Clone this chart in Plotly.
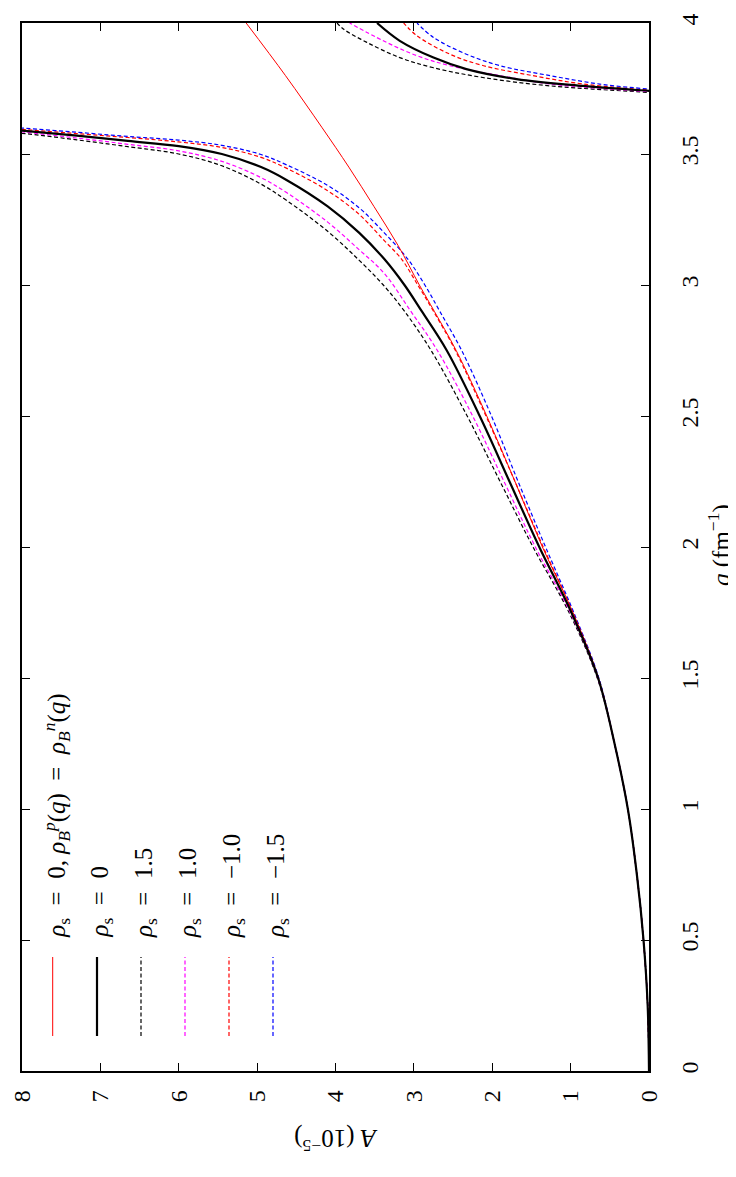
import plotly.graph_objects as go

# ---------------- data (q in fm^-1, A in 1e-5) ----------------
q_low = [0.0, 0.25, 0.5, 0.75, 1.0, 1.25]
A_low = [0.0, 0.017, 0.07, 0.155, 0.27, 0.44]

# red thin: rho_s = 0, rho_B^p = rho_B^n
q_ref = q_low + [1.5, 1.75, 2.0, 2.25, 2.5, 2.75, 2.9, 3.0, 3.15, 3.3, 3.45, 3.6, 3.8, 4.0]
A_ref = A_low + [0.645, 0.97, 1.36, 1.71, 2.07, 2.46, 2.74, 2.93, 3.20, 3.51, 3.83, 4.17, 4.64, 5.14]

# rho_s = 0 (black solid)
q_s0 = q_low + [1.5, 1.75, 2.0, 2.25, 2.5, 2.75, 2.9, 3.0, 3.1, 3.2, 3.3, 3.4, 3.45, 3.5, 3.53, 3.55, 3.57, 3.589, 3.60]
A_s0 = A_low + [0.65, 0.99, 1.40, 1.78, 2.16, 2.58, 2.90, 3.12, 3.38, 3.70, 4.10, 4.62, 4.95, 5.45, 6.0, 6.65, 7.3, 8.0, 8.5]
q_s0_up = [3.735, 3.741, 3.760, 3.786, 3.824, 3.868, 3.932, 4.0]
A_s0_up = [-0.3, 0.0, 0.84, 1.69, 2.33, 2.75, 3.18, 3.47]

# rho_s = 1.5 (black dashed)
q_p15 = q_low + [1.5, 1.75, 2.0, 2.25, 2.5, 2.75, 2.9, 3.0, 3.095, 3.205, 3.322, 3.385, 3.455, 3.50, 3.528, 3.554, 3.579, 3.59]
A_p15 = A_low + [0.66, 1.02, 1.48, 1.90, 2.32, 2.78, 3.12, 3.39, 3.70, 4.10, 4.62, 4.95, 5.45, 6.0, 6.65, 7.3, 8.0, 8.5]
q_p15_up = [3.729, 3.735, 3.760, 3.792, 3.830, 3.868, 3.926, 3.977, 4.0]
A_p15_up = [-0.3, 0.0, 1.26, 2.12, 2.76, 3.18, 3.60, 3.90, 3.98]

# rho_s = 1.0 (magenta dashed)
q_p10 = q_low + [1.5, 1.75, 2.0, 2.25, 2.5, 2.75, 2.9, 3.045, 3.135, 3.24, 3.352, 3.41, 3.472, 3.512, 3.537, 3.561, 3.584, 3.595]
A_p10 = A_low + [0.655, 1.005, 1.45, 1.85, 2.25, 2.70, 3.04, 3.38, 3.70, 4.10, 4.62, 4.95, 5.45, 6.0, 6.65, 7.3, 8.0, 8.5]
q_p10_up = [3.732, 3.738, 3.767, 3.799, 3.837, 3.875, 3.932, 4.0]
A_p10_up = [-0.3, 0.0, 1.26, 1.90, 2.54, 2.96, 3.39, 3.82]

# rho_s = -1.0 (red dashed)
q_m10 = q_low + [1.5, 1.75, 2.0, 2.25, 2.5, 2.75, 2.9, 3.0, 3.1, 3.17, 3.27, 3.36, 3.445, 3.487, 3.525, 3.546, 3.563, 3.578, 3.594, 3.605]
A_m10 = A_low + [0.645, 0.97, 1.35, 1.71, 2.08, 2.47, 2.75, 2.95, 3.16, 3.38, 3.70, 4.10, 4.62, 4.95, 5.45, 6.0, 6.65, 7.3, 8.0, 8.5]
q_m10_up = [3.738, 3.744, 3.767, 3.799, 3.837, 3.881, 3.951, 4.0]
A_m10_up = [-0.3, 0.0, 0.84, 1.48, 2.11, 2.54, 2.96, 3.13]

# rho_s = -1.5 (blue dashed)
q_m15 = q_low + [1.5, 1.75, 2.0, 2.25, 2.5, 2.75, 2.9, 3.0, 3.1, 3.2, 3.295, 3.38, 3.458, 3.498, 3.533, 3.553, 3.567, 3.583, 3.599, 3.61]
A_m15 = A_low + [0.64, 0.96, 1.32, 1.67, 2.01, 2.39, 2.67, 2.86, 3.08, 3.38, 3.70, 4.10, 4.62, 4.95, 5.45, 6.0, 6.65, 7.3, 8.0, 8.5]
q_m15_up = [3.742, 3.748, 3.767, 3.799, 3.837, 3.881, 3.945, 4.0]
A_m15_up = [-0.3, 0.0, 0.63, 1.26, 1.90, 2.33, 2.75, 2.96]

A_ticks = [0, 1, 2, 3, 4, 5, 6, 7, 8]
q_ticks = [0, 0.5, 1, 1.5, 2, 2.5, 3, 3.5, 4]

legend_labels = [
    "<i>ρ</i><sub>s</sub>\u2002=\u20020, <i>ρ</i><sub><i>B</i></sub><sup><i>p</i></sup>(<i>q</i>)\u2002=\u2002<i>ρ</i><sub><i>B</i></sub><sup><i>n</i></sup>(<i>q</i>)",
    "<i>ρ</i><sub>s</sub>\u2002=\u20020",
    "<i>ρ</i><sub>s</sub>\u2002=\u20021.5",
    "<i>ρ</i><sub>s</sub>\u2002=\u20021.0",
    "<i>ρ</i><sub>s</sub>\u2002=\u2002\u22121.0",
    "<i>ρ</i><sub>s</sub>\u2002=\u2002\u22121.5",
]

# ---------------- styles ----------------
DASH = "4px,2.5px"
styles = [
    dict(color="#ff0000", width=1.0, dash="solid"),
    dict(color="#000000", width=2.2, dash="solid"),
    dict(color="#000000", width=1.2, dash=DASH),
    dict(color="#ff00ff", width=1.2, dash=DASH),
    dict(color="#ff0000", width=1.2, dash=DASH),
    dict(color="#0000ff", width=1.2, dash=DASH),
]

series = [
    [(A_ref, q_ref)],
    [(A_s0, q_s0), (A_s0_up, q_s0_up)],
    [(A_p15, q_p15), (A_p15_up, q_p15_up)],
    [(A_p10, q_p10), (A_p10_up, q_p10_up)],
    [(A_m10, q_m10), (A_m10_up, q_m10_up)],
    [(A_m15, q_m15), (A_m15_up, q_m15_up)],
]

fig = go.Figure()
order = [2, 3, 4, 5, 0, 1]
for i in order:
    for (xs, ys) in series[i]:
        fig.add_trace(go.Scatter(x=xs, y=ys, mode="lines", line=styles[i],
                                 line_shape="spline", hoverinfo="skip",
                                 showlegend=False))

# page body adds an 8px margin: figure coordinates = screen - 8
OFF = 8
W, H = 736 - OFF, 1177 - OFF
L, R, T, B = 22 - OFF, 649 - OFF, 23 - OFF, 1071 - OFF
FONT = "Times New Roman"

def px_x(X):
    return (X - OFF - L) / (R - L)

def px_y(Y):
    return (B - (Y - OFF)) / (B - T)

# manual rotated legend (screen pixel positions)
leg_x = [52.7, 97, 141, 185, 229, 273]
shapes = []
annotations = []
for i, X in enumerate(leg_x):
    st = styles[i]
    shapes.append(dict(type="line", xref="paper", yref="paper",
                       x0=px_x(X), x1=px_x(X), y0=px_y(1036), y1=px_y(957),
                       line=dict(color=st["color"], width=st["width"], dash=st["dash"])))
    annotations.append(dict(xref="paper", yref="paper", x=px_x(X + 4), y=px_y(940),
                            xanchor="center", yanchor="bottom", text=legend_labels[i],
                            textangle=-90, showarrow=False,
                            font=dict(family=FONT, size=25, color="black")))

# axis titles
annotations.append(dict(xref="paper", yref="paper", x=px_x(719), y=px_y(545),
                        xanchor="center", yanchor="middle",
                        text="<i>q</i> (fm<sup>\u22121</sup>)", textangle=-90,
                        showarrow=False, font=dict(family=FONT, size=25, color="black")))
annotations.append(dict(xref="paper", yref="paper", x=px_x(336), y=px_y(1140),
                        xanchor="center", yanchor="middle",
                        text="<i>A</i> (10<sup>\u22125</sup>)", textangle=180,
                        showarrow=False, font=dict(family=FONT, size=25, color="black")))

fig.update_layout(
    width=W, height=H,
    margin=dict(l=L, r=W - R, t=T, b=H - B, autoexpand=False),
    paper_bgcolor="white", plot_bgcolor="white",
    font=dict(family=FONT, size=24, color="black"),
    shapes=shapes, annotations=annotations,
)
fig.update_xaxes(range=[8, 0], tickvals=A_ticks, ticks="inside", ticklen=8,
                 tickwidth=1.2, tickcolor="black", mirror="ticks", showline=True,
                 linecolor="black", linewidth=1.5, showgrid=False, zeroline=False,
                 tickangle=-90, ticklabelstandoff=8, automargin=False,
                 tickfont=dict(family=FONT, size=24, color="black"))
fig.update_yaxes(range=[0, 4], tickvals=q_ticks, ticks="inside", ticklen=8,
                 tickwidth=1.2, tickcolor="black", mirror="ticks", showline=True,
                 linecolor="black", linewidth=1.5, showgrid=False, zeroline=False,
                 side="right", tickangle=-90, ticklabelstandoff=18, automargin=False,
                 tickfont=dict(family=FONT, size=24, color="black"))

fig.write_html("out.html")
